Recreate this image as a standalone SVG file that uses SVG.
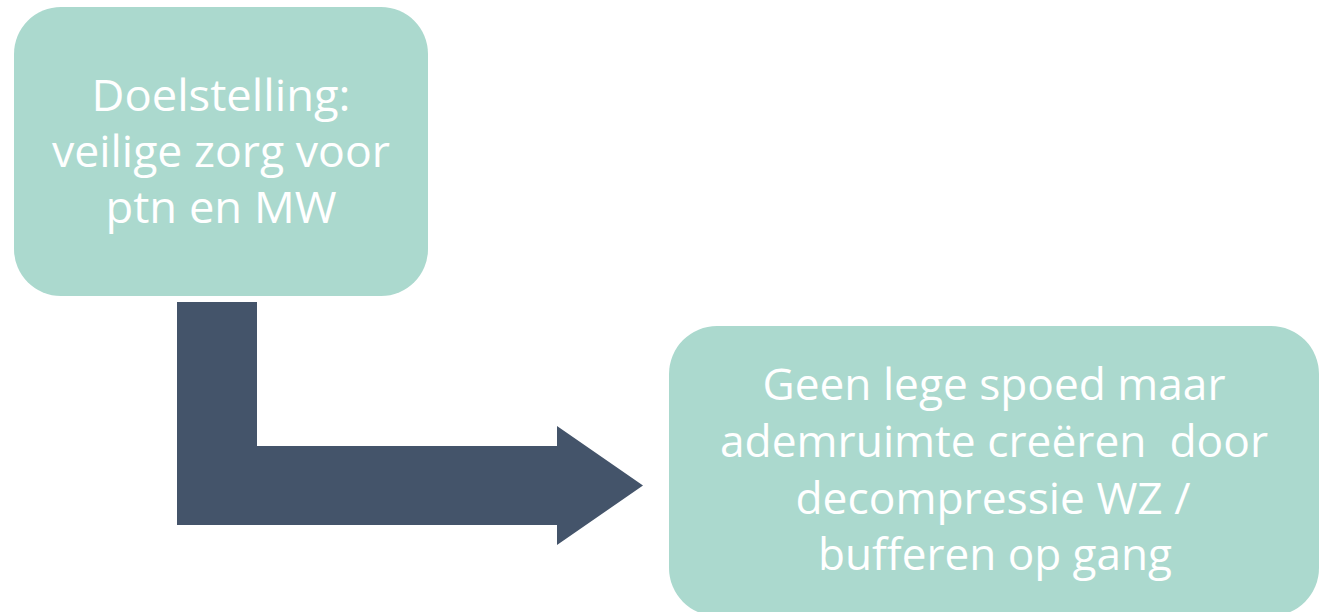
<svg xmlns="http://www.w3.org/2000/svg" width="1320" height="612" viewBox="0 0 1320 612">
<style>
.box{fill:#ABD9CE}
.t1{font-family:"Open Sans","Liberation Sans",sans-serif;font-size:44px;fill:#FFFFFF;text-anchor:middle}
.t2{font-family:"Open Sans","Liberation Sans",sans-serif;font-size:44px;fill:#FFFFFF;text-anchor:middle;white-space:pre}
.arrow{fill:#44546A}
</style>
<rect width="1320" height="612" fill="#FFFFFF"/>
<g id="connectors">
<polygon class="arrow" points="177,302 257,302 257,446 557,446 557,426 643,485.5 557,545 557,525 177,525"/>
</g>
<g id="node-doelstelling">
<rect class="box" x="14" y="7" width="414" height="289" rx="47" ry="47"/>
<text class="t1" x="221" y="111" textLength="259" lengthAdjust="spacingAndGlyphs">Doelstelling:</text>
<text class="t1" x="221" y="167" textLength="338" lengthAdjust="spacingAndGlyphs">veilige zorg voor</text>
<text class="t1" x="221" y="223" textLength="231" lengthAdjust="spacingAndGlyphs">ptn en MW</text>
</g>
<g id="node-ademruimte">
<rect class="box" x="669" y="326" width="650" height="290" rx="48" ry="48"/>
<text class="t2" x="994" y="400" textLength="463" lengthAdjust="spacingAndGlyphs">Geen lege spoed maar</text>
<text class="t2" x="994" y="457" textLength="548" lengthAdjust="spacingAndGlyphs" xml:space="preserve">ademruimte creëren  door</text>
<text class="t2" x="993" y="514" textLength="395" lengthAdjust="spacingAndGlyphs">decompressie WZ /</text>
<text class="t2" x="995" y="570" textLength="354" lengthAdjust="spacingAndGlyphs">bufferen op gang</text>
</g>
</svg>
